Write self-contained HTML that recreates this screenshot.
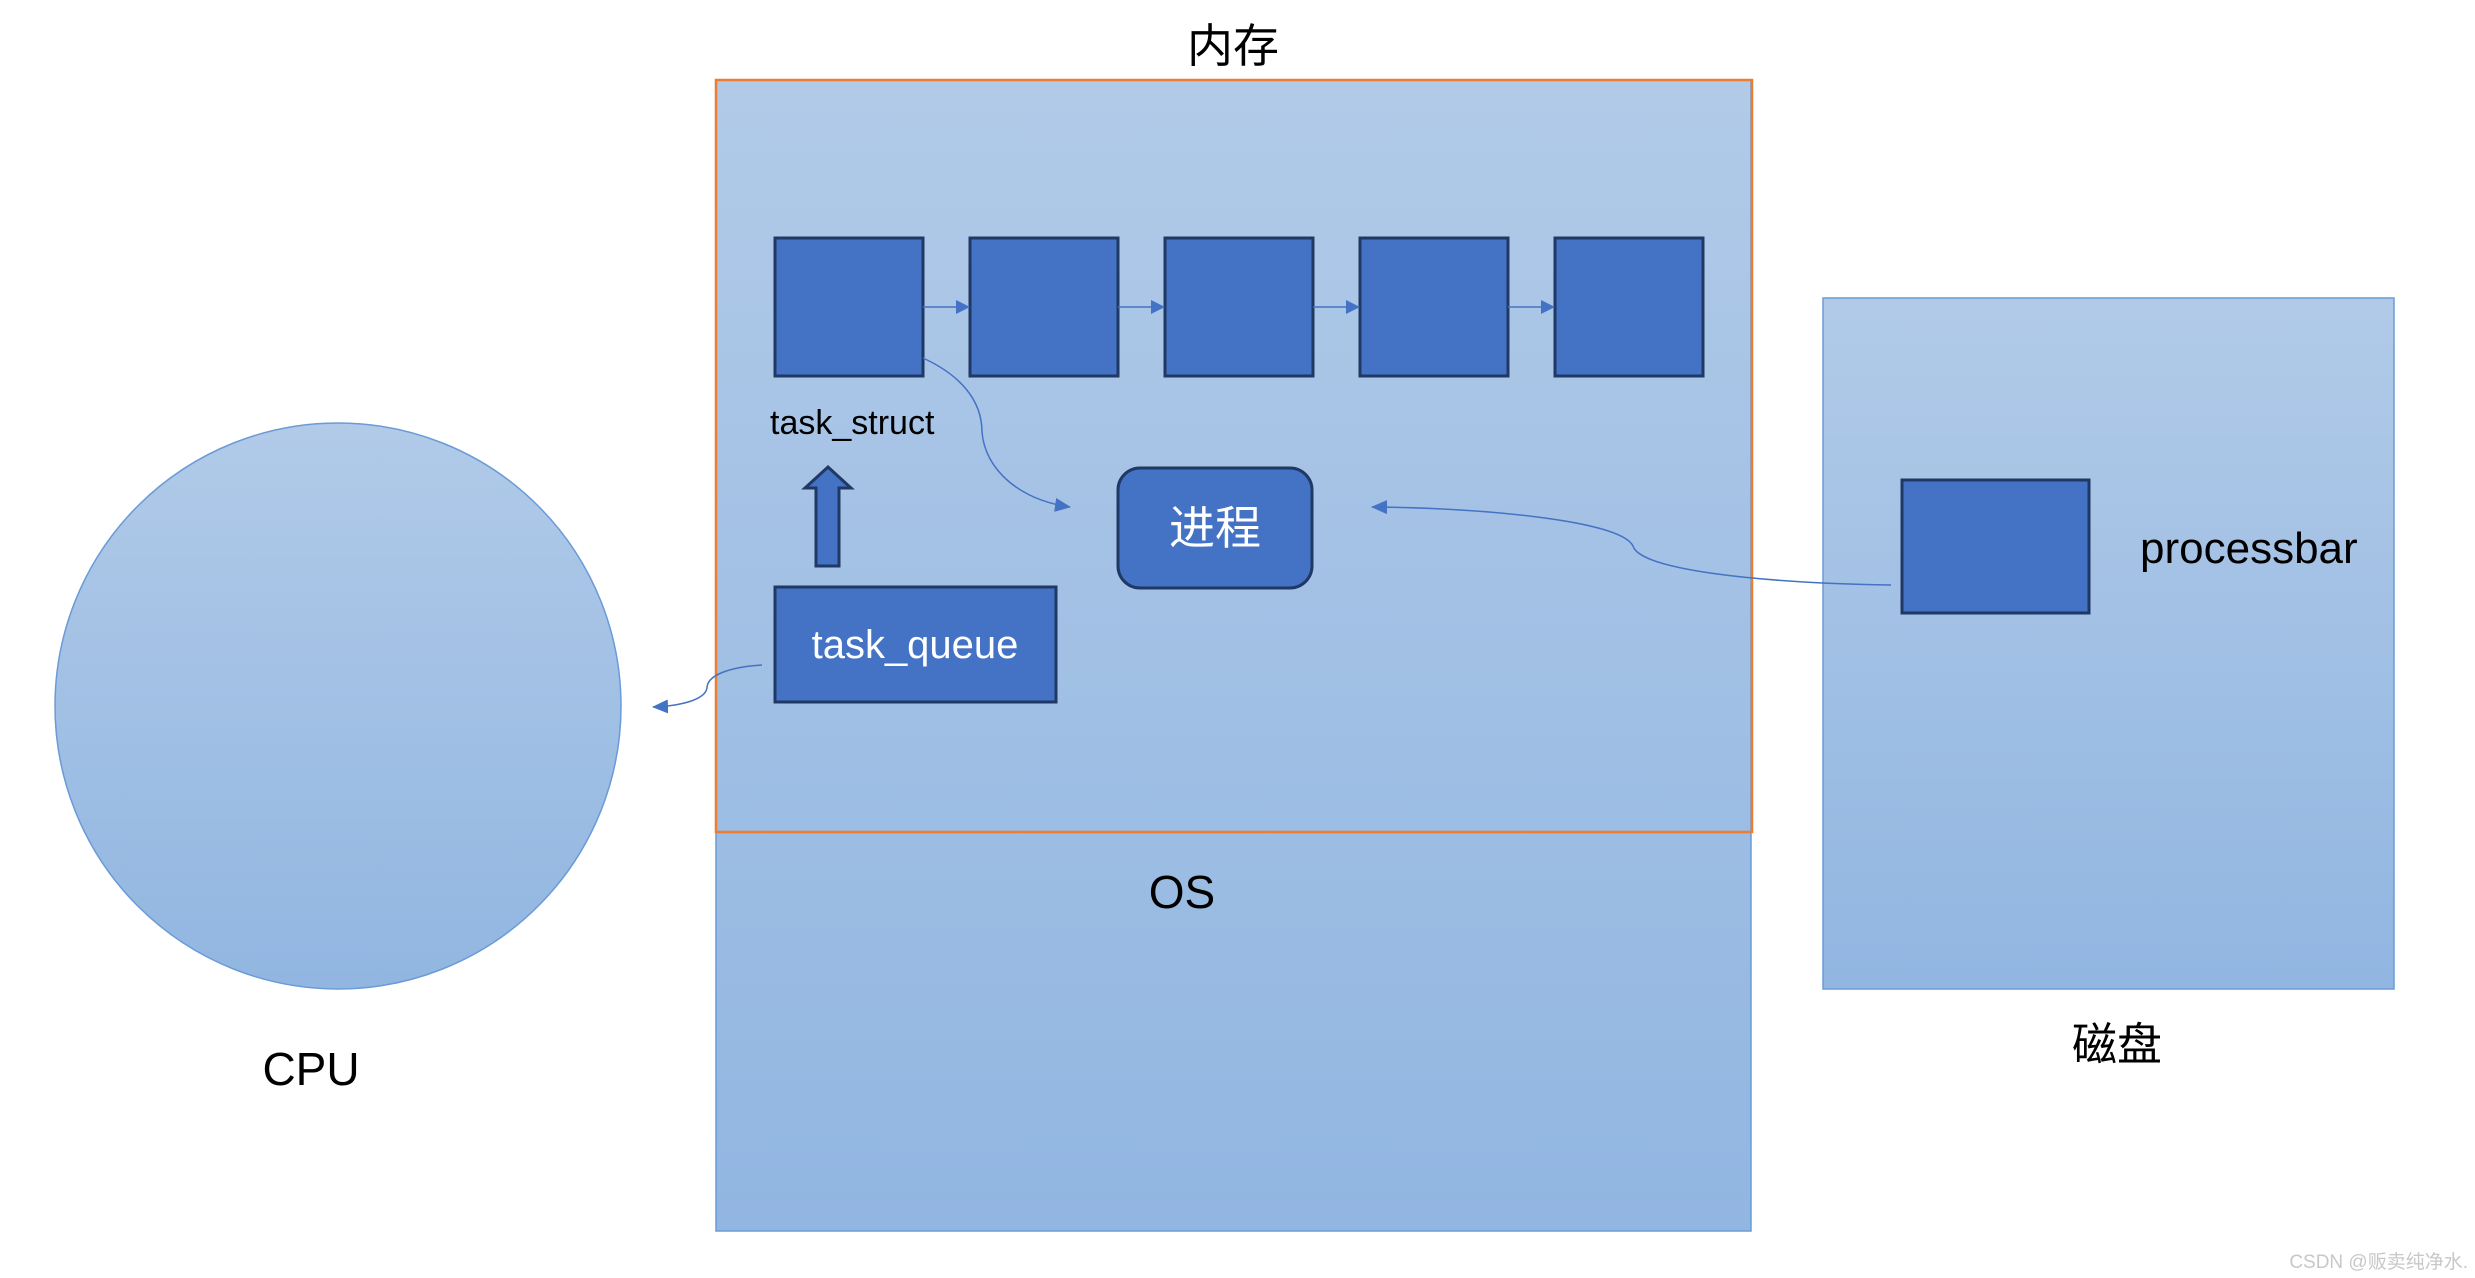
<!DOCTYPE html>
<html><head><meta charset="utf-8"><style>
html,body{margin:0;padding:0;background:#fff;}
svg{display:block;}
text{font-family:"Liberation Sans","Noto Sans CJK SC",sans-serif;}
</style></head><body>
<svg width="2475" height="1278" viewBox="0 0 2475 1278" xmlns="http://www.w3.org/2000/svg">
<defs>
<linearGradient id="g" x1="0" y1="0" x2="0" y2="1">
<stop offset="0" stop-color="#b1cae8"/><stop offset="1" stop-color="#91b6e1"/>
</linearGradient>
<marker id="ah" markerWidth="14" markerHeight="14" refX="13" refY="7" orient="auto" markerUnits="userSpaceOnUse" viewBox="0 0 14 14">
<path d="M0,0 L14,7 L0,14 z" fill="#4472c4"/>
</marker>
<marker id="ah2" markerWidth="16" markerHeight="14" refX="15" refY="7" orient="auto" markerUnits="userSpaceOnUse" viewBox="0 0 16 14">
<path d="M0,0 L16,7 L0,14 z" fill="#4472c4"/>
</marker>
</defs>
<ellipse cx="338" cy="706" rx="283" ry="283" fill="url(#g)" stroke="#6a9bd6" stroke-width="1.5"/>
<text x="311" y="1085" font-size="46" text-anchor="middle">CPU</text>
<rect x="716" y="80" width="1035" height="1151" fill="url(#g)" stroke="#6a9bd6" stroke-width="1.5"/>
<rect x="716" y="80" width="1036" height="752" fill="none" stroke="#ed7d31" stroke-width="2.5"/>
<text x="1233" y="50" font-size="46" text-anchor="middle" dominant-baseline="middle">内存</text>
<text x="1182" y="908" font-size="46" text-anchor="middle">OS</text>
<rect x="1823" y="298" width="571" height="691" fill="url(#g)" stroke="#6a9bd6" stroke-width="1.5"/>
<text x="2117" y="1060" font-size="45" text-anchor="middle">磁盘</text>
<rect x="1902" y="480" width="187" height="133" fill="#4472c4" stroke="#1f3864" stroke-width="3"/>
<text x="2140" y="563" font-size="44">processbar</text>
<g fill="#4472c4" stroke="#1f3864" stroke-width="3">
<rect x="775" y="238" width="148" height="138"/>
<rect x="970" y="238" width="148" height="138"/>
<rect x="1165" y="238" width="148" height="138"/>
<rect x="1360" y="238" width="148" height="138"/>
<rect x="1555" y="238" width="148" height="138"/>
</g>
<g stroke="#4472c4" stroke-width="1.5" marker-end="url(#ah)">
<line x1="923" y1="307" x2="969" y2="307"/>
<line x1="1118" y1="307" x2="1164" y2="307"/>
<line x1="1313" y1="307" x2="1359" y2="307"/>
<line x1="1508" y1="307" x2="1554" y2="307"/>
</g>
<text x="770" y="434" font-size="34">task_struct</text>
<path d="M816,566 L816,488 L805,488 L828,467 L851,488 L839,488 L839,566 Z" fill="#4472c4" stroke="#1f3864" stroke-width="3"/>
<rect x="775" y="587" width="281" height="115" fill="#4472c4" stroke="#1f3864" stroke-width="3"/>
<text x="915" y="658" font-size="40" fill="#fff" text-anchor="middle">task_queue</text>
<rect x="1118" y="468" width="194" height="120" rx="22" fill="#4472c4" stroke="#1f3864" stroke-width="3"/>
<text x="1215" y="544" font-size="46" fill="#fff" text-anchor="middle">进程</text>
<g fill="none" stroke="#4472c4" stroke-width="1.5">
<path d="M923,358 C960,375 982,400 982,432 C985,470 1020,500 1070,507" marker-end="url(#ah2)"/>
<path d="M1891,585 C1760,583 1640,570 1633,546 C1620,520 1480,508 1372,507" marker-end="url(#ah2)"/>
<path d="M762,665 C730,667 707,675 707,688 C705,700 680,706 653,707" marker-end="url(#ah2)"/>
</g>
<text x="2468" y="1268" font-size="19" fill="#c8c8c8" text-anchor="end">CSDN @贩卖纯净水.</text>
</svg>
</body></html>
